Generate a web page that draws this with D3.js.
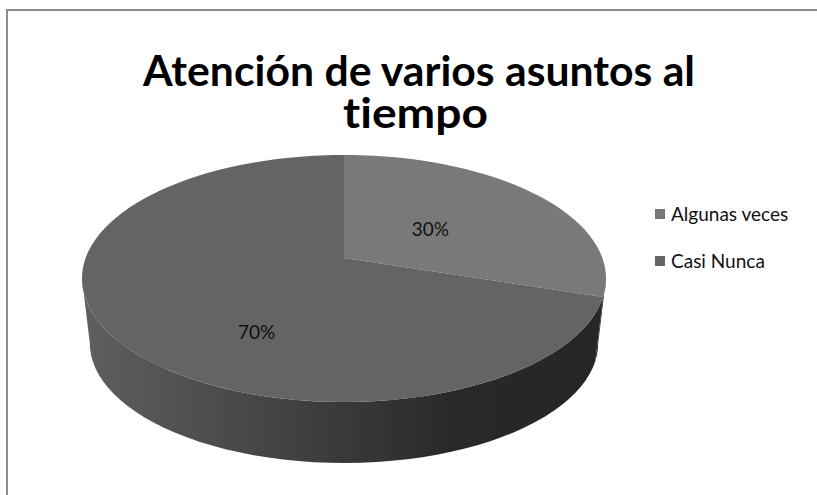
<!DOCTYPE html>
<html><head><meta charset="utf-8">
<script src="https://cdn.jsdelivr.net/npm/d3@7"></script>
<style>html,body{margin:0;padding:0;background:#fff;overflow:hidden}
text{font-variant-ligatures:none;font-feature-settings:"liga" 0,"clig" 0}</style>
</head><body>
<svg id="chart" width="817" height="495"></svg>
<script>
const titleLines = ["Atención de varios asuntos al", "tiempo"];
const categories = ["Algunas veces", "Casi Nunca"];
const values = [30, 70];
const labels = ["30%", "70%"];
const colors = ["#797979", "#646464"];

const svg = d3.select("#chart");
const W = 817, H = 495;
const font = "Lato, 'Open Sans', 'Liberation Sans', sans-serif";

// chart border
svg.append("rect").attr("x", 7).attr("y", 10).attr("width", W + 10).attr("height", H + 10)
  .attr("fill", "#fff").attr("stroke", "#8c8c8c").attr("stroke-width", 2);

// perspective projection of the unit disk
const cx = 344, cy = 258, A = 258.4, B = 120.1, k = 0.166;
const depthDy = 65.3, depthS = 0.97;
function proj(theta, r = 1, bottom = false) {
  const s = bottom ? depthS : 1, dy = bottom ? depthDy : 0;
  const u = r * Math.sin(theta), v = r * Math.cos(theta);
  const w = 1 + k * v;
  return [cx + s * A * u / w, cy + dy - s * B * v / w];
}
function arcPts(a0, a1, bottom, n = 120) {
  const pts = [];
  const steps = Math.max(2, Math.ceil(Math.abs(a1 - a0) / (2 * Math.PI) * n));
  for (let i = 0; i <= steps; i++) pts.push(proj(a0 + (a1 - a0) * i / steps, 1, bottom));
  return pts;
}

const pie = d3.pie().sort(null).startAngle(0).endAngle(2 * Math.PI);
const arcs = pie(values);
const line = d3.line().curve(d3.curveLinear);

// gradient for the side wall
const defs = svg.append("defs");
const grad = defs.append("linearGradient").attr("id", "side").attr("gradientUnits", "userSpaceOnUse")
  .attr("x1", 82).attr("x2", 606).attr("y1", 0).attr("y2", 0);
grad.append("stop").attr("offset", "0%").attr("stop-color", "#5f5f5f");
grad.append("stop").attr("offset", "35%").attr("stop-color", "#454545");
grad.append("stop").attr("offset", "72%").attr("stop-color", "#282828");
grad.append("stop").attr("offset", "100%").attr("stop-color", "#262626");

// visible side range
const vis0 = Math.acos(-k), vis1 = 2 * Math.PI - Math.acos(-k);
arcs.forEach(d => {
  const a0 = Math.max(d.startAngle, vis0), a1 = Math.min(d.endAngle, vis1);
  if (a1 <= a0) return;
  const pts = arcPts(a0, a1, false).concat(arcPts(a1, a0, true));
  svg.append("path").attr("d", line(pts) + "Z").attr("fill", "url(#side)");
});

// top faces
arcs.forEach((d, i) => {
  const pts = [[cx, cy]].concat(arcPts(d.startAngle, d.endAngle, false));
  svg.append("path").attr("d", line(pts) + "Z").attr("fill", colors[i]);
});

// data labels (layout: radial fraction and angular shift from slice mid-angle)
const labelLayout = [{ r: 0.43, shift: 0 }, { r: 0.64, shift: -25.4 * Math.PI / 180 }];
arcs.forEach((d, i) => {
  const mid = (d.startAngle + d.endAngle) / 2 + labelLayout[i].shift;
  const p = proj(mid, labelLayout[i].r);
  svg.append("text").attr("x", p[0]).attr("y", p[1]).attr("dy", "0.35em")
    .attr("text-anchor", "middle").attr("font-family", font).attr("font-size", 19)
    .attr("fill", "#111").text(labels[i]);
});

// title (one text, two lines; condensed to mimic Calibri Bold)
const titleFs = 42;
const title = svg.append("text").attr("text-anchor", "middle")
  .attr("font-family", font).attr("font-weight", "bold").attr("font-size", titleFs).attr("fill", "#000");
title.append("tspan").attr("x", 419).attr("y", 86)
  .attr("textLength", 552).attr("lengthAdjust", "spacingAndGlyphs").text(titleLines[0]);
title.append("tspan").attr("x", 415.5).attr("y", 128)
  .attr("textLength", 145).attr("lengthAdjust", "spacingAndGlyphs").text(titleLines[1]);

// legend
const leg = svg.append("g").attr("transform", "translate(655,209)");
categories.forEach((c, i) => {
  const g = leg.append("g").attr("transform", `translate(0,${i * 47})`);
  g.append("rect").attr("width", 10).attr("height", 10).attr("fill", colors[i]);
  g.append("text").attr("x", 16).attr("y", 5).attr("dy", "0.36em").attr("font-family", font)
    .attr("font-size", 19).attr("fill", "#111").text(c);
});
</script>
</body></html>
